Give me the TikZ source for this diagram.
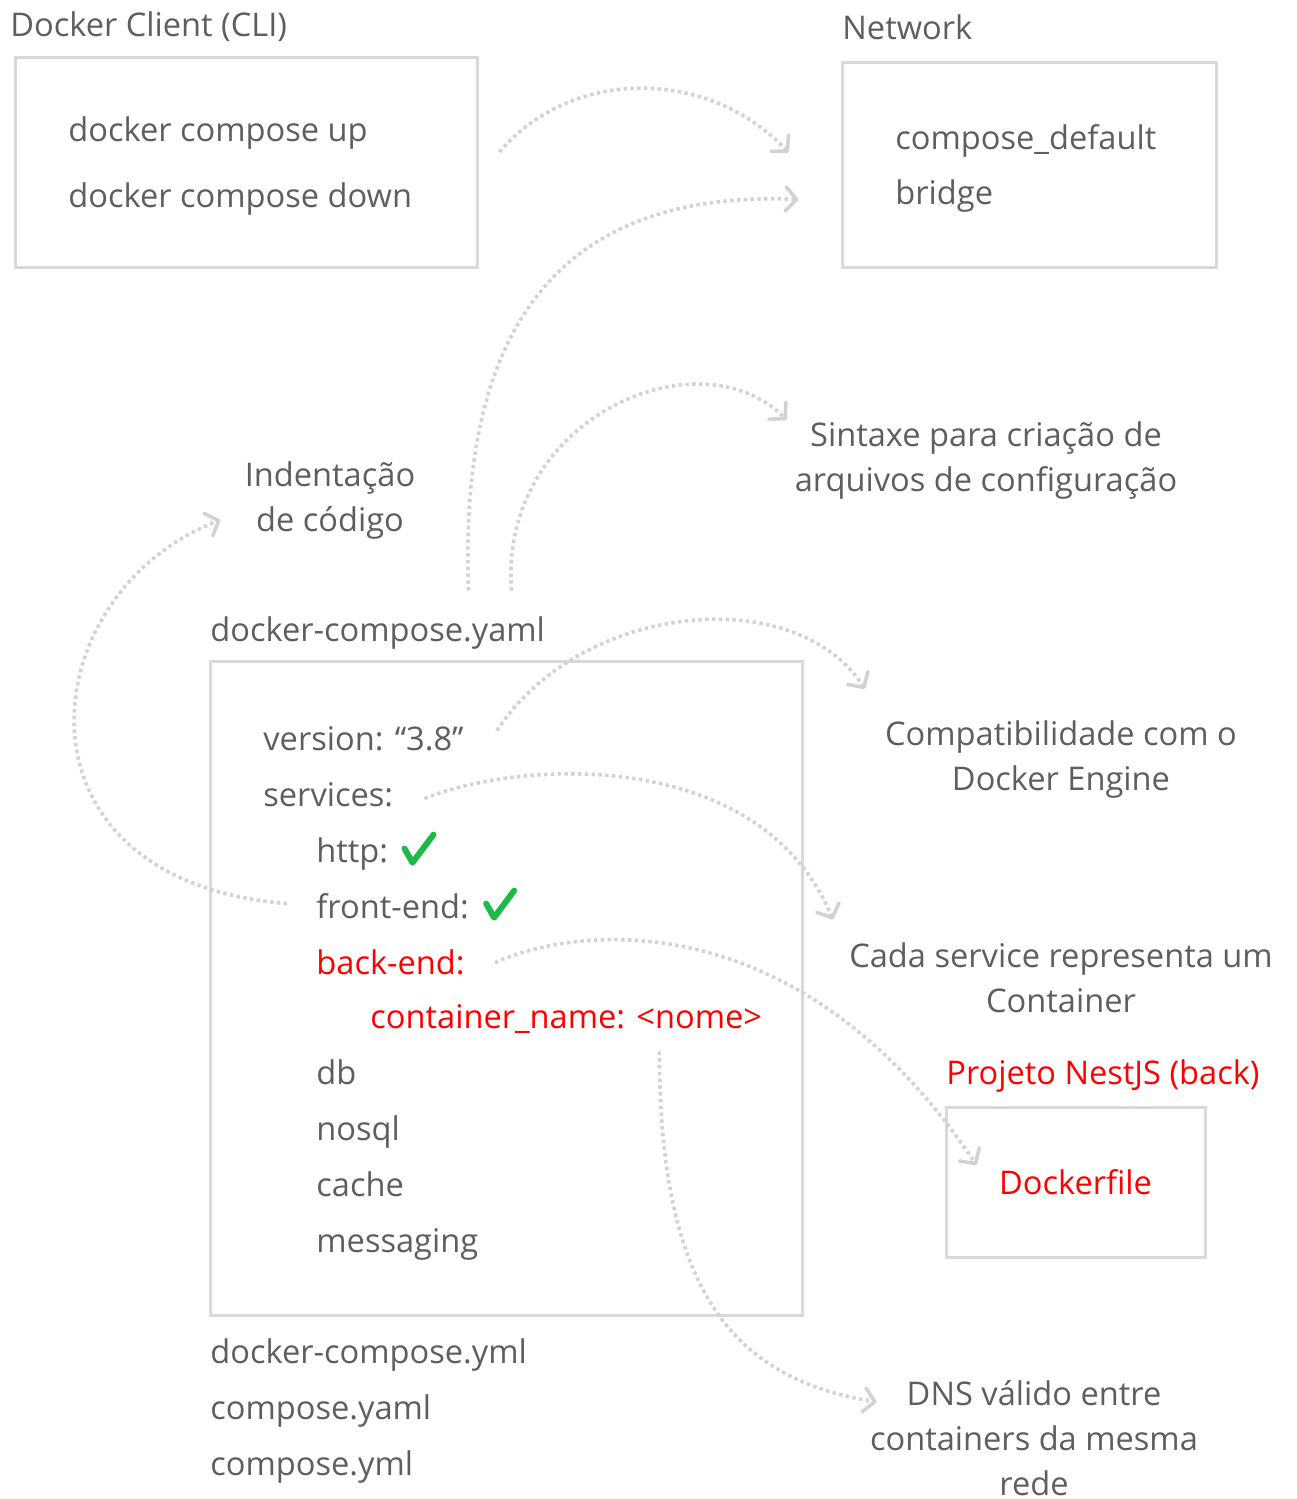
\documentclass[tikz,border=0pt]{standalone}
\usepackage{fontspec}
\setmainfont{Open Sans}
\usetikzlibrary{arrows.meta}

\definecolor{inkgray}{HTML}{5E5E5E}
\definecolor{framegray}{HTML}{D9D9D9}
\definecolor{dotgray}{HTML}{D2D2D2}
\definecolor{notered}{HTML}{FF0000}
\definecolor{okgreen}{HTML}{1DBA48}

\tikzset{
	txt/.style={text=inkgray, inner sep=0pt, font=\fontsize{16.3}{22.5}\selectfont},
	line/.style={txt, anchor=mid west, yshift=-3.3pt},
	redline/.style={line, text=notered},
	note/.style={txt, align=center, yshift=-1.5pt},
	frame/.style={draw=framegray, line width=1.5pt, inner sep=0pt},
	hint/.style={draw=dotgray, line width=1.8pt, dash pattern=on 1.7pt off 1.7pt,
		-{Straight Barb[length=5.5pt,width=12pt,round]}},
	tick/.style={draw=okgreen, line width=3pt, line cap=round, line join=round},
}

\begin{document}
\begin{tikzpicture}[x=0.5pt, y=-0.5pt]
	\useasboundingbox[fill=white] (0,0) rectangle (1296,1499);

	% client and network boxes
	\node[line] (clilabel) at (10,25) {Docker Client (CLI)};
	\node[frame, minimum width=231pt, minimum height=105pt] (cli) at (246,162) {};
	\node[line] (up) at (68,130) {docker compose up};
	\node[line] (down) at (68,196) {docker compose down};

	\node[line] (netlabel) at (842,28) {Network};
	\node[frame, minimum width=187pt, minimum height=102.5pt] (net) at (1029,164.5) {};
	\node[line] (cdefault) at (895,138) {compose\_default};
	\node[line] (bridge) at (895,193) {bridge};

	% notes
	\node[note] (syntax) at (986,458) {Sintaxe para criação de\\arquivos de configuração};
	\node[note] (indent) at (330,498) {Indentação\\de código};
	\node[note] (compat) at (1061,757) {Compatibilidade com o\\Docker Engine};
	\node[note] (cada) at (1061,975) {Cada service representa um\\Container};
	\node[note] (dns) at (1034,1435) {DNS válido entre\\containers da mesma\\rede};

	% the compose file
	\node[line] (yamllabel) at (210,630) {docker-compose.yaml};
	\node[frame, minimum width=296pt, minimum height=327pt] (yaml) at (506,988) {};
	\node[line] (version) at (263,739) {version: “3.8”};
	\node[line] (services) at (263,795) {services:};
	\node[line] (http) at (316,851) {http:};
	\node[line] (front) at (316,907) {front-end:};
	\node[redline] (back) at (316,963) {back-end:};
	\node[redline] (cname) at (370,1017) {container\_name: <nome>};
	\node[line] (db) at (316,1073) {db};
	\node[line] (nosql) at (316,1129) {nosql};
	\node[line] (cache) at (316,1185) {cache};
	\node[line] (messaging) at (316,1241) {messaging};

	\draw[tick] ([shift={(16,-9)}]http.mid east) -- ++(8,14) -- ++(21,-28);
	\draw[tick] ([shift={(17,-10)}]front.mid east) -- ++(8,14) -- ++(20,-27);

	\node[line] (yml) at (210,1352) {docker-compose.yml};
	\node[line] (cyaml) at (210,1408) {compose.yaml};
	\node[line] (cyml) at (210,1464) {compose.yml};

	% backend project
	\node[redline] (nest) at (946,1073) {Projeto NestJS (back)};
	\node[frame, txt, text=notered, minimum width=129.5pt, minimum height=75pt] (dfile) at (1075.5,1182) {Dockerfile};

	% dotted hints
	\draw[hint] ([shift={(21,-10)}]cli.east) .. controls +(72,-85) and +(-80,-85) .. ([shift={(-52,-12)}]net.west);
	\draw[hint] ([shift={(260,-69)}]yaml.north west) .. controls +(-10,-262) and +(-240,-10) .. ([shift={(-42,35)}]net.west);
	\draw[hint] ([shift={(303,-69)}]yaml.north west) .. controls +(-13,-172) and +(-88,-88) .. ([shift={(-8,-2)}]syntax.north west);
	\draw[hint] ([shift={(-29,-10)}]front.mid west) .. controls +(-287,-23) and +(-190,73) .. ([shift={(-24,19)}]indent.west);
	\draw[hint] ([shift={(33,-15)}]version.mid east) .. controls +(85,-130) and +(-68,-106) .. ([shift={(-20,-32)}]compat.north west);
	\draw[hint] ([shift={(31,-3)}]services.mid east) .. controls +(92,-38) and +(-73,-175) .. ([shift={(-16,-23)}]cada.north west);
	\draw[hint] ([shift={(30,-7)}]back.mid east) .. controls +(82,-37) and +(-178,-265) .. ([shift={(32,-17)}]dfile.west);
	\draw[hint] ([shift={(-103,17)}]cname.south east) .. controls +(0,245) and +(-140,-23) .. ([shift={(7,-36)}]dns.west);
\end{tikzpicture}
\end{document}
